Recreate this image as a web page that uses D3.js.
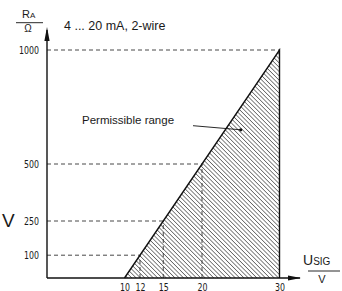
<!DOCTYPE html>
<html>
<head>
<meta charset="utf-8">
<script src="https://cdn.jsdelivr.net/npm/d3@7"></script>
<style>
    html, body { margin: 0; padding: 0; background: #fff; }
    #chart { width: 342px; height: 291px; }
    text { font-family: "Liberation Sans", Arial, sans-serif; fill: #1a1a1a; }
    .tick text { font-family: "Liberation Sans Narrow", "DejaVu Sans Condensed", sans-serif; }
</style>
</head>
<body>
<div id="chart"></div>
<script>
// Chart values
const xTicks = [10, 12, 15, 20, 30];        // U_SIG in V
const yTicks = [100, 250, 500, 1000];       // R_A in Ohm
const lineU = [10, 30];                     // permissible load line
const lineR = [0, 1000];
const guideU = [12, 15, 20, 30];            // dashed guides, U/R pairs on the line
const guideR = [100, 250, 500, 1000];
const annoPoint = [25, 650];                // where the "Permissible range" leader ends

document.addEventListener("DOMContentLoaded", function () {
    const svg = d3.select("#chart")
        .append("svg")
        .attr("width", 342)
        .attr("height", 291);

    // Scales
    const x = d3.scaleLinear().domain([0, 30]).range([47, 279.5]);
    const y = d3.scaleLinear().domain([0, 1000]).range([278, 50]);

    // Hatch pattern
    const defs = svg.append("defs");
    const pat = defs.append("pattern")
        .attr("id", "hatch")
        .attr("patternUnits", "userSpaceOnUse")
        .attr("width", 3.05)
        .attr("height", 3.05)
        .attr("patternTransform", "rotate(-45)");
    pat.append("line")
        .attr("x1", 0).attr("y1", 0)
        .attr("x2", 0).attr("y2", 3.05)
        .style("stroke", "#222")
        .style("stroke-width", 1.1);

    // Permissible area (triangle under the line, up to the right edge)
    const area = [
        [lineU[0], lineR[0]],
        [lineU[1], lineR[1]],
        [lineU[1], lineR[0]]
    ];
    svg.append("path")
        .attr("d", d3.line().x(d => x(d[0])).y(d => y(d[1]))(area) + "Z")
        .style("fill", "url(#hatch)")
        .style("stroke", "none");

    // Dashed guides
    const dash = svg.append("g")
        .style("stroke", "#333")
        .style("stroke-width", 0.9)
        .style("stroke-dasharray", "4,3");
    guideU.forEach((u, i) => {
        dash.append("line")
            .attr("x1", x(0)).attr("y1", y(guideR[i]))
            .attr("x2", x(u)).attr("y2", y(guideR[i]));
        if (u < 30) {
            dash.append("line")
                .attr("x1", x(u)).attr("y1", y(0))
                .attr("x2", x(u)).attr("y2", y(guideR[i]));
        }
    });

    // Boundary line and right edge
    svg.append("path")
        .attr("d", d3.line().x(d => x(d[0])).y(d => y(d[1]))(area))
        .style("fill", "none")
        .style("stroke", "#111")
        .style("stroke-width", 1.4);

    // Axes with arrows
    svg.append("line")
        .attr("x1", x(0)).attr("y1", y(0))
        .attr("x2", x(0)).attr("y2", 30)
        .style("stroke", "#111").style("stroke-width", 1.4);
    svg.append("path")
        .attr("d", `M${x(0)},27 L${x(0) - 2.6},41 L${x(0) + 2.6},41 Z`)
        .style("fill", "#111");
    svg.append("line")
        .attr("x1", x(0)).attr("y1", y(0))
        .attr("x2", 300).attr("y2", y(0))
        .style("stroke", "#111").style("stroke-width", 1.4);
    svg.append("path")
        .attr("d", `M301,${y(0)} L288,${y(0) - 2.4} L288,${y(0) + 2.4} Z`)
        .style("fill", "#111");

    // Tick labels (narrow digits like the original)
    const yAxis = svg.append("g")
        .attr("transform", `translate(${x(0)},0)`)
        .call(d3.axisLeft(y).tickValues(yTicks).tickFormat(d3.format("d")).tickSize(0).tickPadding(8));
    yAxis.select(".domain").remove();
    yAxis.selectAll("text")
        .style("font-size", "11px").style("fill", "#1a1a1a")
        .attr("textLength", d => String(d).length * 5)
        .attr("lengthAdjust", "spacingAndGlyphs");

    const xAxis = svg.append("g")
        .attr("transform", `translate(0,${y(0)})`)
        .call(d3.axisBottom(x).tickValues(xTicks).tickFormat(d3.format("d")).tickSize(0).tickPadding(5));
    xAxis.select(".domain").remove();
    xAxis.selectAll("text")
        .style("font-size", "11px").style("fill", "#1a1a1a")
        .attr("textLength", d => String(d).length * 5)
        .attr("lengthAdjust", "spacingAndGlyphs");

    // Y axis unit R_A / Ω
    const ra = svg.append("text").attr("x", 22).attr("y", 18).style("font-size", "11px");
    ra.append("tspan").text("R");
    ra.append("tspan").style("font-size", "8px").text("A");
    svg.append("line")
        .attr("x1", 16).attr("y1", 22.7).attr("x2", 43).attr("y2", 22.7)
        .style("stroke", "#111").style("stroke-width", 0.9);
    svg.append("text")
        .attr("x", 28).attr("y", 32)
        .attr("text-anchor", "middle")
        .style("font-size", "10px")
        .text("Ω");

    // X axis unit U_SIG / V
    const us = svg.append("text").attr("x", 303).attr("y", 265).style("font-size", "14px");
    us.append("tspan").text("U");
    us.append("tspan").style("font-size", "10px").text("SIG");
    svg.append("line")
        .attr("x1", 308).attr("y1", 271).attr("x2", 340).attr("y2", 271)
        .style("stroke", "#111").style("stroke-width", 0.9);
    svg.append("text")
        .attr("x", 322).attr("y", 283)
        .attr("text-anchor", "middle")
        .style("font-size", "11px")
        .text("V");

    // Title
    svg.append("text")
        .attr("x", 64).attr("y", 30)
        .style("font-size", "12.5px")
        .text("4 ... 20 mA, 2-wire");

    // Cut-off label on the left edge
    svg.append("text")
        .attr("x", 2).attr("y", 227)
        .style("font-size", "19px")
        .text("V");

    // Annotation
    svg.append("text")
        .attr("x", 82).attr("y", 124)
        .style("font-size", "11.5px")
        .text("Permissible range");
    svg.append("line")
        .attr("x1", 193).attr("y1", 125.7)
        .attr("x2", x(annoPoint[0])).attr("y2", y(annoPoint[1]))
        .style("stroke", "#111").style("stroke-width", 0.9);
    svg.append("circle")
        .attr("cx", x(annoPoint[0])).attr("cy", y(annoPoint[1]))
        .attr("r", 1.6)
        .style("fill", "#111");
});
</script>
</body>
</html>
